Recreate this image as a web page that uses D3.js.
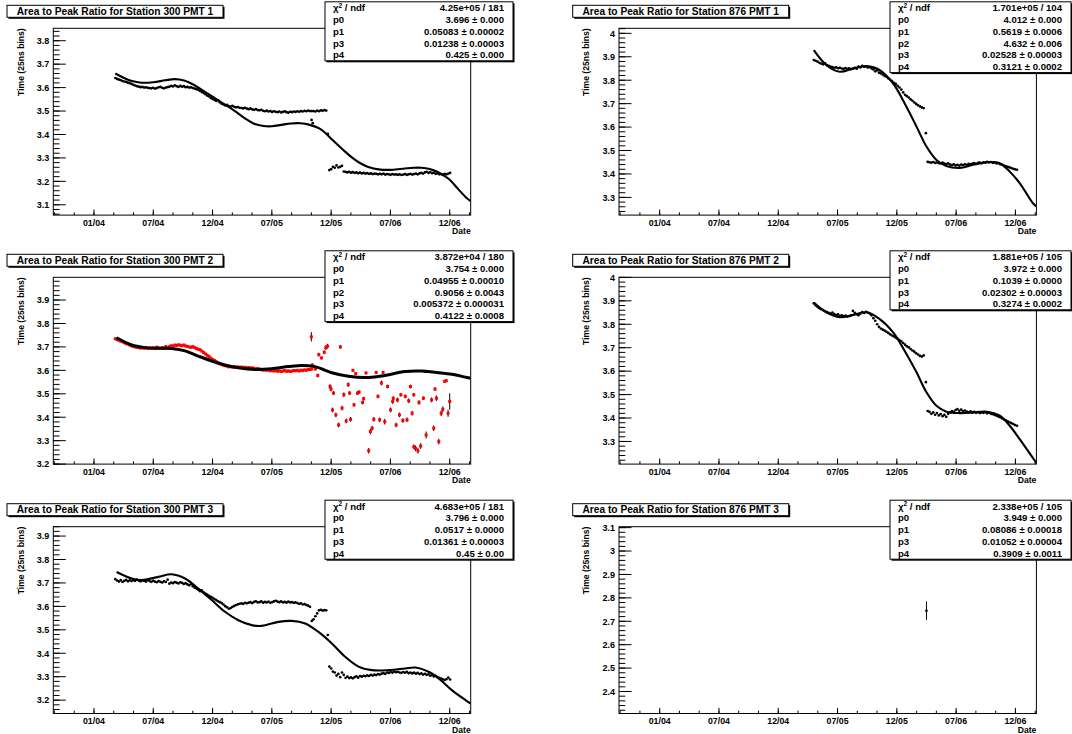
<!DOCTYPE html>
<html>
<head>
<meta charset="utf-8">
<script src="https://cdn.jsdelivr.net/npm/d3@7"></script>
<style>
html, body { margin: 0; padding: 0; background: #fff; }
svg { display: block; font-family: "Liberation Sans", Arial, Helvetica, sans-serif; font-weight: bold; }
</style>
</head>
<body>
<svg id="canvas" width="1072" height="734"></svg>
<script>
// ---------- time axis (decimal years) ----------
const xDomain = [2003.657, 2007.177];
const xMajorYears = [2004.0, 2004.5, 2005.0, 2005.5, 2006.0, 2006.5, 2007.0];
const xMajorLabels = ["01/04", "07/04", "12/04", "07/05", "12/05", "07/06", "12/06"];

// ---------- Station 300 PMT 1 ----------
const s300p1A = { t0: 2004.180, dt: 0.0152, v: [
  3.641, 3.637, 3.634, 3.632, 3.628, 3.626, 3.624, 3.621, 3.619, 3.616,
  3.612, 3.609, 3.606, 3.604, 3.602, 3.603, 3.600, 3.601, 3.599, 3.598,
  3.597, 3.599, 3.596, 3.598, 3.601, 3.603, 3.599, 3.597, 3.600, 3.602,
  3.604, 3.607, 3.605, 3.610, 3.606, 3.603, 3.607, 3.604, 3.606, 3.602,
  3.603, 3.600, 3.601, 3.598, 3.596, 3.593, 3.591, 3.586, 3.581, 3.577,
  3.572, 3.566, 3.562, 3.556, 3.551, 3.548, 3.543, 3.546, 3.537, 3.531,
  3.528, 3.524, 3.526, 3.521, 3.519, 3.522, 3.518, 3.516, 3.517, 3.514,
  3.513, 3.511, 3.514, 3.510, 3.508, 3.511, 3.507, 3.505, 3.508, 3.504,
  3.503, 3.505, 3.501, 3.499, 3.502, 3.498, 3.500, 3.496, 3.499, 3.497,
  3.495, 3.498, 3.494, 3.496, 3.499, 3.495, 3.493, 3.497, 3.495, 3.498,
  3.496, 3.499, 3.497, 3.500, 3.498, 3.501, 3.499, 3.502, 3.500, 3.500,
  3.500, 3.498, 3.502, 3.499, 3.503, 3.501, 3.504, 3.502 ] };
const s300p1B = { t0: 2005.985, dt: 0.0152, v: [
  3.248, 3.252, 3.262, 3.258, 3.268, 3.259, 3.262, 3.266, 3.242, 3.240,
  3.238, 3.241, 3.237, 3.239, 3.236, 3.238, 3.235, 3.237,
  3.234, 3.236, 3.233, 3.235, 3.232, 3.234, 3.231, 3.233, 3.232, 3.230,
  3.232, 3.230, 3.233, 3.229, 3.231, 3.230, 3.228, 3.231, 3.229, 3.230,
  3.228, 3.230, 3.227, 3.229, 3.231, 3.228, 3.230, 3.232, 3.229, 3.231,
  3.233, 3.230, 3.234, 3.236, 3.233, 3.238, 3.241, 3.236, 3.239, 3.235,
  3.237, 3.232, 3.234, 3.230, 3.231, 3.229, 3.232, 3.230, 3.233, 3.236 ] };
const s300p1Extra = [[2005.835, 3.462], [2005.845, 3.448], [2005.972, 3.403]];
const fit300p1 = [
  [2004.180, 3.660], [2004.25, 3.642], [2004.32, 3.628], [2004.40, 3.621], [2004.50, 3.623],
  [2004.60, 3.631], [2004.68, 3.636], [2004.76, 3.630], [2004.84, 3.612], [2004.92, 3.587],
  [2005.00, 3.561], [2005.08, 3.535], [2005.18, 3.503], [2005.27, 3.470], [2005.35, 3.446],
  [2005.43, 3.436], [2005.50, 3.435], [2005.58, 3.441], [2005.66, 3.447], [2005.74, 3.448],
  [2005.82, 3.441], [2005.90, 3.426], [2005.96, 3.402], [2006.01, 3.377], [2006.10, 3.335],
  [2006.18, 3.300], [2006.25, 3.276], [2006.32, 3.260], [2006.40, 3.251], [2006.50, 3.249],
  [2006.60, 3.254], [2006.70, 3.258], [2006.76, 3.258], [2006.83, 3.253], [2006.89, 3.242],
  [2006.95, 3.225], [2007.00, 3.207], [2007.07, 3.168], [2007.14, 3.130], [2007.177, 3.116]];
const stats300p1 = [["chi", "4.25e+05 / 181"], ["p0", "3.696 ± 0.000"], ["p1", "0.05083 ± 0.00002"],
  ["p3", "0.01238 ± 0.00003"], ["p4", "0.425 ± 0.000"]];

// ---------- Station 876 PMT 1 ----------
const s876p1A = { t0: 2005.300, dt: 0.0157, v: [
  3.886, 3.883, 3.879, 3.874, 3.871, 3.868, 3.872, 3.864, 3.861, 3.858,
  3.856, 3.853, 3.855, 3.851, 3.853, 3.850, 3.848, 3.852, 3.849, 3.851,
  3.847, 3.850, 3.853, 3.849, 3.858, 3.855, 3.861, 3.857, 3.859, 3.854,
  3.856, 3.850, 3.846, 3.838, 3.842, 3.832, 3.829, 3.824, 3.818, 3.815,
  3.808, 3.802, 3.796, 3.789, 3.784, 3.776, 3.769, 3.760, 3.748, 3.738,
  3.732, 3.726, 3.718, 3.712, 3.705, 3.699, 3.693, 3.688, 3.684, 3.681 ] };
const s876p1B = { t0: 2006.260, dt: 0.0157, v: [
  3.452, 3.450, 3.448, 3.451, 3.447, 3.449, 3.446, 3.445, 3.448, 3.444,
  3.442, 3.445, 3.440, 3.438, 3.441, 3.437, 3.439, 3.436, 3.440, 3.438,
  3.441, 3.439, 3.443, 3.441, 3.444, 3.446, 3.443, 3.447, 3.449, 3.446,
  3.450, 3.448, 3.452, 3.449, 3.451, 3.447, 3.449, 3.445, 3.446, 3.441,
  3.440, 3.436, 3.433, 3.430, 3.428, 3.425, 3.422, 3.420, 3.418 ] };
const s876p1Extra = [[2006.245, 3.574]];
const fit876p1 = [
  [2005.300, 3.928], [2005.407, 3.864], [2005.519, 3.836], [2005.632, 3.850], [2005.744, 3.860],
  [2005.856, 3.843], [2005.969, 3.786], [2006.081, 3.687], [2006.166, 3.602], [2006.250, 3.517],
  [2006.334, 3.460], [2006.418, 3.434], [2006.531, 3.426], [2006.643, 3.439], [2006.783, 3.451],
  [2006.868, 3.446], [2006.952, 3.410], [2007.036, 3.361], [2007.148, 3.275], [2007.177, 3.262]];
const stats876p1 = [["chi", "1.701e+05 / 104"], ["p0", "4.012 ± 0.000"], ["p1", "0.5619 ± 0.0006"],
  ["p2", "4.632 ± 0.006"], ["p3", "0.02528 ± 0.00003"], ["p4", "0.3121 ± 0.0002"]];

// ---------- Station 300 PMT 2 ----------
const s300p2A = { t0: 2004.180, dt: 0.0152, v: [
  3.735, 3.731, 3.728, 3.725, 3.722, 3.718, 3.714, 3.712, 3.708, 3.705,
  3.702, 3.700, 3.698, 3.697, 3.695, 3.697, 3.694, 3.696, 3.693, 3.695,
  3.694, 3.696, 3.693, 3.699, 3.695, 3.694, 3.697, 3.693, 3.702, 3.696,
  3.701, 3.705, 3.703, 3.708, 3.706, 3.709, 3.707, 3.705, 3.708, 3.704,
  3.702, 3.700, 3.698, 3.701, 3.697, 3.693, 3.690, 3.688, 3.682, 3.676,
  3.670, 3.664, 3.659, 3.652, 3.646, 3.642, 3.637, 3.632, 3.628, 3.625,
  3.622, 3.620, 3.618, 3.615, 3.617, 3.614, 3.616, 3.613, 3.615, 3.612,
  3.614, 3.611, 3.613, 3.610, 3.612, 3.609, 3.611, 3.608, 3.606, 3.608,
  3.605, 3.603, 3.601, 3.603, 3.600, 3.602, 3.598, 3.600, 3.597, 3.599,
  3.596, 3.598, 3.595, 3.597, 3.599, 3.596, 3.598, 3.595, 3.597, 3.599,
  3.598, 3.600, 3.597, 3.601, 3.599, 3.602, 3.600, 3.604, 3.603, 3.606 ] };
// scattered points after late 2005: [time, value, error]
const s300p2Extra = [
  [2005.833, 3.743, 0.020], [2005.842, 3.623, 0.006], [2005.867, 3.606, 0.006], [2005.887, 3.578, 0.008],
  [2005.896, 3.667, 0.008], [2005.919, 3.653, 0.006], [2005.942, 3.677, 0.008], [2005.955, 3.697, 0.010],
  [2005.969, 3.703, 0.010], [2005.991, 3.531, 0.010], [2005.999, 3.520, 0.010], [2006.020, 3.503, 0.008],
  [2006.012, 3.431, 0.010], [2006.040, 3.410, 0.010], [2006.063, 3.367, 0.010], [2006.078, 3.700, 0.008],
  [2006.092, 3.439, 0.010], [2006.107, 3.496, 0.010], [2006.127, 3.384, 0.010], [2006.144, 3.539, 0.010],
  [2006.156, 3.503, 0.008], [2006.164, 3.391, 0.010], [2006.184, 3.600, 0.006], [2006.193, 3.453, 0.008],
  [2006.207, 3.586, 0.006], [2006.222, 3.503, 0.008], [2006.236, 3.507, 0.008], [2006.265, 3.463, 0.008],
  [2006.274, 3.479, 0.008], [2006.294, 3.589, 0.006], [2006.317, 3.257, 0.012], [2006.331, 3.339, 0.012],
  [2006.346, 3.353, 0.010], [2006.360, 3.391, 0.010], [2006.380, 3.591, 0.006], [2006.395, 3.489, 0.008],
  [2006.409, 3.389, 0.010], [2006.424, 3.546, 0.010], [2006.438, 3.591, 0.006], [2006.452, 3.381, 0.012],
  [2006.476, 3.531, 0.008], [2006.501, 3.431, 0.010], [2006.519, 3.467, 0.010], [2006.524, 3.481, 0.008],
  [2006.548, 3.367, 0.010], [2006.559, 3.474, 0.010], [2006.576, 3.410, 0.010], [2006.588, 3.496, 0.008],
  [2006.605, 3.386, 0.010], [2006.625, 3.489, 0.008], [2006.640, 3.389, 0.010], [2006.654, 3.470, 0.010],
  [2006.669, 3.531, 0.008], [2006.683, 3.417, 0.010], [2006.697, 3.496, 0.008], [2006.697, 3.274, 0.010],
  [2006.712, 3.267, 0.012], [2006.732, 3.257, 0.012], [2006.755, 3.277, 0.012], [2006.741, 3.463, 0.010],
  [2006.778, 3.481, 0.008], [2006.793, 3.596, 0.004], [2006.801, 3.324, 0.015], [2006.847, 3.474, 0.010],
  [2006.865, 3.353, 0.012], [2006.876, 3.520, 0.008], [2006.888, 3.481, 0.012], [2006.908, 3.296, 0.012],
  [2006.928, 3.417, 0.012], [2006.942, 3.434, 0.012], [2006.957, 3.553, 0.006], [2006.971, 3.556, 0.006],
  [2006.986, 3.417, 0.015], [2007.000, 3.467, 0.035]];
const fit300p2 = [
  [2004.191, 3.739], [2004.318, 3.708], [2004.430, 3.697], [2004.543, 3.694], [2004.655, 3.693],
  [2004.768, 3.683], [2004.880, 3.661], [2004.993, 3.640], [2005.105, 3.623], [2005.218, 3.611],
  [2005.359, 3.604], [2005.499, 3.607], [2005.640, 3.616], [2005.752, 3.621], [2005.865, 3.616],
  [2006.006, 3.590], [2006.146, 3.575], [2006.287, 3.569], [2006.427, 3.576], [2006.624, 3.595],
  [2006.765, 3.597], [2006.906, 3.590], [2007.018, 3.583], [2007.131, 3.571], [2007.177, 3.566]];
const stats300p2 = [["chi", "3.872e+04 / 180"], ["p0", "3.754 ± 0.000"], ["p1", "0.04955 ± 0.00010"],
  ["p2", "0.9056 ± 0.0043"], ["p3", "0.005372 ± 0.000031"], ["p4", "0.4122 ± 0.0008"]];

// ---------- Station 876 PMT 2 ----------
const s876p2A = { t0: 2005.300, dt: 0.0157, v: [
  3.889, 3.880, 3.874, 3.868, 3.864, 3.860, 3.856, 3.852, 3.849, 3.846,
  3.850, 3.843, 3.839, 3.842, 3.836, 3.838, 3.834, 3.837, 3.833, 3.835,
  3.838, 3.857, 3.849, 3.843, 3.839, 3.845, 3.852, 3.848, 3.853, 3.850,
  3.846, 3.838, 3.826, 3.815, 3.800, 3.789, 3.782, 3.777, 3.773, 3.768,
  3.763, 3.757, 3.752, 3.748, 3.743, 3.738, 3.732, 3.727, 3.720, 3.713,
  3.706, 3.701, 3.694, 3.688, 3.683, 3.676, 3.671, 3.665, 3.662, 3.667 ] };
const s876p2B = { t0: 2006.260, dt: 0.0157, v: [
  3.430, 3.426, 3.418, 3.424, 3.414, 3.421, 3.411, 3.417, 3.408, 3.413,
  3.405, 3.418, 3.424, 3.430, 3.426, 3.434, 3.438, 3.431, 3.436, 3.428,
  3.432, 3.427, 3.424, 3.428, 3.423, 3.426, 3.422, 3.425, 3.421, 3.424,
  3.422, 3.425, 3.420, 3.423, 3.418, 3.416, 3.413, 3.410, 3.406, 3.403,
  3.398, 3.394, 3.390, 3.386, 3.382, 3.378, 3.374, 3.370, 3.367 ] };
const s876p2Extra = [[2006.245, 3.553]];
const fit876p2 = [
  [2005.300, 3.893], [2005.407, 3.851], [2005.519, 3.830], [2005.632, 3.840], [2005.744, 3.851],
  [2005.856, 3.822], [2005.969, 3.765], [2006.081, 3.673], [2006.166, 3.595], [2006.250, 3.510],
  [2006.334, 3.452], [2006.418, 3.427], [2006.531, 3.421], [2006.643, 3.424], [2006.756, 3.427],
  [2006.868, 3.410], [2006.952, 3.367], [2007.036, 3.310], [2007.177, 3.208]];
const stats876p2 = [["chi", "1.881e+05 / 105"], ["p0", "3.972 ± 0.000"], ["p1", "0.1039 ± 0.0000"],
  ["p3", "0.02302 ± 0.00003"], ["p4", "0.3274 ± 0.0002"]];

// ---------- Station 300 PMT 3 ----------
const s300p3A = { t0: 2004.180, dt: 0.0152, v: [
  3.716, 3.710, 3.706, 3.712, 3.704, 3.709, 3.713, 3.707, 3.711, 3.708,
  3.712, 3.709, 3.714, 3.710, 3.707, 3.711, 3.709, 3.706, 3.712, 3.708,
  3.705, 3.709, 3.706, 3.703, 3.708, 3.705, 3.702, 3.707, 3.704, 3.714,
  3.697, 3.702, 3.699, 3.704, 3.701, 3.698, 3.703, 3.700, 3.696, 3.699,
  3.694, 3.690, 3.695, 3.686, 3.680, 3.676, 3.671, 3.665, 3.668, 3.660,
  3.655, 3.650, 3.645, 3.641, 3.636, 3.631, 3.627, 3.622, 3.618, 3.614,
  3.608, 3.601, 3.596, 3.590, 3.593, 3.598, 3.602, 3.606, 3.609, 3.611,
  3.613, 3.611, 3.615, 3.613, 3.616, 3.618, 3.614, 3.619, 3.622, 3.617,
  3.618, 3.621, 3.616, 3.619, 3.617, 3.620, 3.615, 3.618, 3.621, 3.624,
  3.620, 3.618, 3.621, 3.617, 3.619, 3.616, 3.620, 3.617, 3.618, 3.615,
  3.617, 3.614, 3.611, 3.613, 3.608, 3.610, 3.606, 3.603, 3.598, 3.538,
  3.545, 3.558, 3.570, 3.583, 3.585, 3.582, 3.584, 3.583 ] };
const s300p3B = { t0: 2005.985, dt: 0.0152, v: [
  3.343, 3.335, 3.322, 3.318, 3.305, 3.312, 3.298, 3.318, 3.308, 3.295,
  3.300, 3.294, 3.297, 3.293, 3.298, 3.301, 3.296, 3.303,
  3.300, 3.304, 3.302, 3.306, 3.303, 3.308, 3.305, 3.309, 3.307, 3.311,
  3.309, 3.313, 3.315, 3.312, 3.318, 3.316, 3.320, 3.317, 3.322, 3.319,
  3.321, 3.318, 3.316, 3.320, 3.317, 3.321, 3.315, 3.318, 3.314, 3.317,
  3.313, 3.316, 3.311, 3.314, 3.309, 3.312, 3.308, 3.310, 3.304, 3.307,
  3.301, 3.304, 3.298, 3.295, 3.292, 3.289, 3.286, 3.290, 3.296, 3.288 ] };
const s300p3Extra = [[2005.972, 3.478]];
const fit300p3 = [
  [2004.191, 3.747], [2004.318, 3.719], [2004.402, 3.712], [2004.543, 3.726], [2004.655, 3.737],
  [2004.768, 3.719], [2004.880, 3.676], [2004.993, 3.627], [2005.105, 3.577], [2005.218, 3.541],
  [2005.330, 3.520], [2005.415, 3.517], [2005.555, 3.534], [2005.668, 3.538], [2005.781, 3.527],
  [2005.893, 3.491], [2006.006, 3.442], [2006.118, 3.385], [2006.231, 3.343], [2006.343, 3.328],
  [2006.484, 3.328], [2006.624, 3.335], [2006.709, 3.339], [2006.821, 3.321], [2006.906, 3.293],
  [2007.018, 3.243], [2007.131, 3.201], [2007.177, 3.185]];
const stats300p3 = [["chi", "4.683e+05 / 181"], ["p0", "3.796 ± 0.000"], ["p1", "0.0517 ± 0.0000"],
  ["p3", "0.01361 ± 0.00003"], ["p4", "0.45 ± 0.00"]];

// ---------- Station 876 PMT 3 ----------
const s876p3Extra = [[2006.250, 2.745, 0.040]];
const stats876p3 = [["chi", "2.338e+05 / 105"], ["p0", "3.949 ± 0.000"], ["p1", "0.08086 ± 0.00018"],
  ["p3", "0.01052 ± 0.00004"], ["p4", "0.3909 ± 0.0011"]];

// ---------- layout ----------
const colLeft = [53.3, 619];
const rowTop = [28.3, 277.3, 526.7];
const frameW = 417.4, frameH = 186.8;

const panels = [
  { title: "Area to Peak Ratio for Station 300 PMT 1", col: 0, row: 0, yDom: [3.056, 3.853],
    segs: [s300p1A, s300p1B], extra: s300p1Extra, fit: fit300p1, stats: stats300p1, red: false, fitW: 2.1 },
  { title: "Area to Peak Ratio for Station 876 PMT 1", col: 1, row: 0, yDom: [3.2245, 4.0215],
    segs: [s876p1A, s876p1B], extra: s876p1Extra, fit: fit876p1, stats: stats876p1, red: false, fitW: 2.1 },
  { title: "Area to Peak Ratio for Station 300 PMT 2", col: 0, row: 1, yDom: [3.2, 3.997],
    segs: [s300p2A], extra: s300p2Extra, fit: fit300p2, stats: stats300p2, red: true, fitW: 3.0 },
  { title: "Area to Peak Ratio for Station 876 PMT 2", col: 1, row: 1, yDom: [3.2034, 4.0004],
    segs: [s876p2A, s876p2B], extra: s876p2Extra, fit: fit876p2, stats: stats876p2, red: false, fitW: 2.1 },
  { title: "Area to Peak Ratio for Station 300 PMT 3", col: 0, row: 2, yDom: [3.143, 3.940],
    segs: [s300p3A, s300p3B], extra: s300p3Extra, fit: fit300p3, stats: stats300p3, red: false, fitW: 2.1 },
  { title: "Area to Peak Ratio for Station 876 PMT 3", col: 1, row: 2, yDom: [2.306, 3.104],
    segs: [], extra: s876p3Extra, fit: null, stats: stats876p3, red: false, fitW: 2.1 }
];

const svg = d3.select("#canvas");
const defs = svg.append("defs");

function segPoints(seg) {
  return seg.v.map((v, i) => [seg.t0 + i * seg.dt, v]);
}

function drawBox(g, x, y, w, h) {
  // pave with a thin drop shadow on the right and bottom
  g.append("rect").attr("x", x + 1.5).attr("y", y + 1.5).attr("width", w).attr("height", h)
    .attr("fill", "#000");
  g.append("rect").attr("x", x).attr("y", y).attr("width", w).attr("height", h)
    .attr("fill", "#fff").attr("stroke", "#000").attr("stroke-width", 1);
}

panels.forEach((p, idx) => {
  const fx = colLeft[p.col], fy = rowTop[p.row];
  const x = d3.scaleLinear().domain(xDomain).range([fx, fx + frameW]);
  const y = d3.scaleLinear().domain(p.yDom).range([fy + frameH, fy]);
  const g = svg.append("g");

  defs.append("clipPath").attr("id", "clip" + idx)
    .append("rect").attr("x", fx).attr("y", fy).attr("width", frameW).attr("height", frameH);

  // frame
  g.append("rect").attr("x", fx).attr("y", fy).attr("width", frameW).attr("height", frameH)
    .attr("fill", "none").attr("stroke", "#000").attr("stroke-width", 1);

  // y axis ticks: major every 0.1, minor every 0.02
  const lo = p.yDom[0], hi = p.yDom[1];
  const minorY = d3.range(Math.ceil(lo * 50), Math.floor(hi * 50) + 1).map(k => k / 50);
  const majorY = d3.range(Math.ceil(lo * 10 - 1e-6), Math.floor(hi * 10 + 1e-6) + 1).map(k => k / 10);
  g.selectAll(null).data(minorY).join("line")
    .attr("x1", fx).attr("x2", fx + 6.3)
    .attr("y1", d => y(d)).attr("y2", d => y(d))
    .attr("stroke", "#000").attr("stroke-width", 1);
  g.selectAll(null).data(majorY).join("line")
    .attr("x1", fx).attr("x2", fx + 12.5)
    .attr("y1", d => y(d)).attr("y2", d => y(d))
    .attr("stroke", "#000").attr("stroke-width", 1);
  g.selectAll(null).data(majorY).join("text")
    .attr("x", fx - 4).attr("y", d => y(d) + 3.3)
    .attr("text-anchor", "end").attr("font-size", 9)
    .text(d => String(Math.round(d * 10) / 10));

  // x axis ticks: labelled every half year, minor every two months
  const minorX = d3.range(-2, 20).map(k => 2004 + k / 6).filter(t => t >= xDomain[0] - 0.01 && t <= xDomain[1]);
  g.selectAll(null).data(minorX).join("line")
    .attr("x1", d => x(d)).attr("x2", d => x(d))
    .attr("y1", fy + frameH).attr("y2", fy + frameH - 2.8)
    .attr("stroke", "#000").attr("stroke-width", 1);
  g.selectAll(null).data(xMajorYears).join("line")
    .attr("x1", d => x(d)).attr("x2", d => x(d))
    .attr("y1", fy + frameH).attr("y2", fy + frameH - 5.6)
    .attr("stroke", "#000").attr("stroke-width", 1);
  g.selectAll(null).data(xMajorYears).join("text")
    .attr("x", d => x(d)).attr("y", fy + frameH + 10.5)
    .attr("text-anchor", "middle").attr("font-size", 8.8)
    .text((d, i) => xMajorLabels[i]);

  // axis titles
  g.append("text").attr("x", fx + frameW).attr("y", fy + frameH + 19)
    .attr("text-anchor", "end").attr("font-size", 8.6).text("Date");
  g.append("text")
    .attr("transform", `translate(${fx - 29.8},${fy}) rotate(-90)`)
    .attr("text-anchor", "end").attr("font-size", 8.6).text("Time (25ns bins)");

  // data
  const plot = g.append("g").attr("clip-path", `url(#clip${idx})`);
  let pts = [];
  p.segs.forEach(s => { pts = pts.concat(segPoints(s)); });
  p.extra.forEach(e => pts.push(e));

  const withErr = pts.filter(d => d[2] !== undefined);
  plot.selectAll(null).data(withErr).join("line")
    .attr("x1", d => x(d[0])).attr("x2", d => x(d[0]))
    .attr("y1", d => y(d[1] - d[2])).attr("y2", d => y(d[1] + d[2]))
    .attr("stroke", "#000").attr("stroke-width", 1);

  if (p.red) {
    plot.selectAll(null).data(pts).join("rect")
      .attr("x", d => x(d[0]) - 1.5).attr("y", d => y(d[1]) - 1.5)
      .attr("width", 3).attr("height", 3).attr("fill", "#ff0000");
  } else {
    plot.selectAll(null).data(pts).join("circle")
      .attr("cx", d => x(d[0])).attr("cy", d => y(d[1])).attr("r", 1.35)
      .attr("fill", "#000");
  }

  // fitted function
  if (p.fit) {
    const line = d3.line().x(d => x(d[0])).y(d => y(d[1])).curve(d3.curveCatmullRom.alpha(0.5));
    plot.append("path").attr("d", line(p.fit))
      .attr("fill", "none").attr("stroke", "#000").attr("stroke-width", p.fitW)
      .attr("stroke-linejoin", "round");
  }

  // title pave
  const tx = fx - 46.3, ty = fy - 23, tw = 216, th = 12;
  drawBox(g, tx, ty, tw, th);
  g.append("text").attr("x", tx + tw / 2).attr("y", ty + 9.6)
    .attr("text-anchor", "middle").attr("font-size", 10.2).text(p.title);

  // statistics pave
  const sx = p.col === 0 ? 325 : 890;
  const sw = p.col === 0 ? 188 : 181;
  const rowH = 11.8;
  const sy = fy - 26.5, sh = rowH * p.stats.length;
  drawBox(g, sx, sy, sw, sh);
  p.stats.forEach((r, i) => {
    const by = sy + (i + 0.5) * rowH + 3.4;
    const lab = g.append("text").attr("x", sx + 8).attr("y", by).attr("font-size", 9.6);
    if (r[0] === "chi") {
      lab.append("tspan").text("χ");
      lab.append("tspan").attr("dy", -3.5).attr("font-size", 6.5).text("2");
      lab.append("tspan").attr("dy", 3.5).text(" / ndf");
    } else {
      lab.text(r[0]);
    }
    g.append("text").attr("x", sx + sw - 9).attr("y", by)
      .attr("text-anchor", "end").attr("font-size", 9.6).text(r[1]);
  });
});
</script>
</body>
</html>
